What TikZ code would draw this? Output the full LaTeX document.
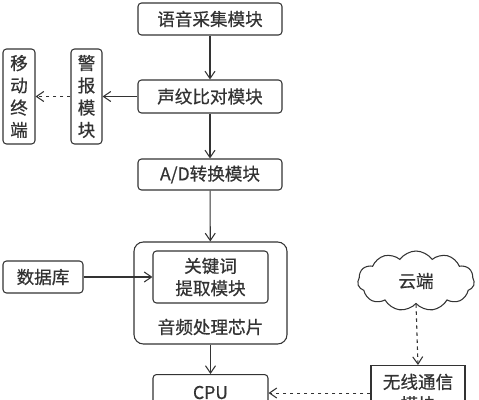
\documentclass[tikz,border=0pt]{standalone}
\usepackage{fontspec}
\setmainfont{Noto Sans CJK SC}[BoldFont=Noto Sans CJK SC,BoldFeatures={FakeBold=0.6}]
\usetikzlibrary{arrows.meta,shapes.symbols}

\begin{document}
\begin{tikzpicture}[x=0.03cm,y=-0.03cm,
    box/.style={draw=black!80,line width=0.9pt,rounded corners=3pt,text=black!80,font=\fontsize{15}{19}\selectfont\bfseries,align=center,inner sep=0pt},
    arr/.style={draw=black!80,line width=0.9pt,-{Straight Barb[length=2.2mm,width=3mm]}},
    darr/.style={arr,dashed}]
      \useasboundingbox (0,0) rectangle (479,400);
      \clip (0,0) rectangle (479,400);
      \fill[white] (0,0) rectangle (479,400);
      \node[box,minimum width=4.32cm,minimum height=0.96cm] (voice) at (210,19) {语音采集模块};
      \node[box,minimum width=4.32cm,minimum height=0.99cm] (vprint) at (210,96.5) {声纹比对模块};
      \node[box,minimum width=4.32cm,minimum height=0.93cm] (adc) at (210,174.5) {A/D转换模块};
      \node[box,minimum width=0.93cm,minimum height=2.85cm] (alarm) at (86.5,96.5) {警\\报\\模\\块};
      \node[box,minimum width=0.96cm,minimum height=2.85cm] (mobile) at (19,96.5) {移\\动\\终\\端};
      \node[box,rounded corners=8pt,minimum width=4.59cm,minimum height=3.06cm] (chip) at (210.5,293) {};
      \node[box,minimum width=3.45cm,minimum height=1.56cm] (kw) at (210.5,277) {关键词\\提取模块};
      \node[text=black!80,font=\fontsize{15}{19}\selectfont\bfseries] (chiplbl) at (210.5,327) {音频处理芯片};
      \node[box,minimum width=2.4cm,minimum height=0.96cm] (db) at (43,277) {数据库};
      \node[box,cloud,cloud puffs=11,cloud puff arc=110,aspect=2.1,rounded corners=0pt,minimum width=3.5cm,minimum height=1.8cm] (cloud) at (416,281) {云端};
      \node[box,rounded corners=0pt,minimum width=2.82cm,minimum height=1.65cm,anchor=north] (wless) at (418,365) {无线通信\\模块};
      \node[box,minimum width=3.45cm,minimum height=1.08cm,anchor=north] (cpu) at (210.5,374) {CPU};
      \draw[arr] (voice) -- (vprint);
      \draw[arr] (vprint) -- (adc);
      \draw[arr] (adc) -- (chip);
      \draw[arr] (chip) -- (cpu);
      \draw[arr] (vprint) -- (alarm);
      \draw[darr] (alarm) -- (mobile);
      \draw[arr] (db) -- (kw);
      \draw[darr] (cloud.south) -- (wless.north);
      \draw[darr] (wless.west) -- (wless.west -| cpu.east);
\end{tikzpicture}
\end{document}
